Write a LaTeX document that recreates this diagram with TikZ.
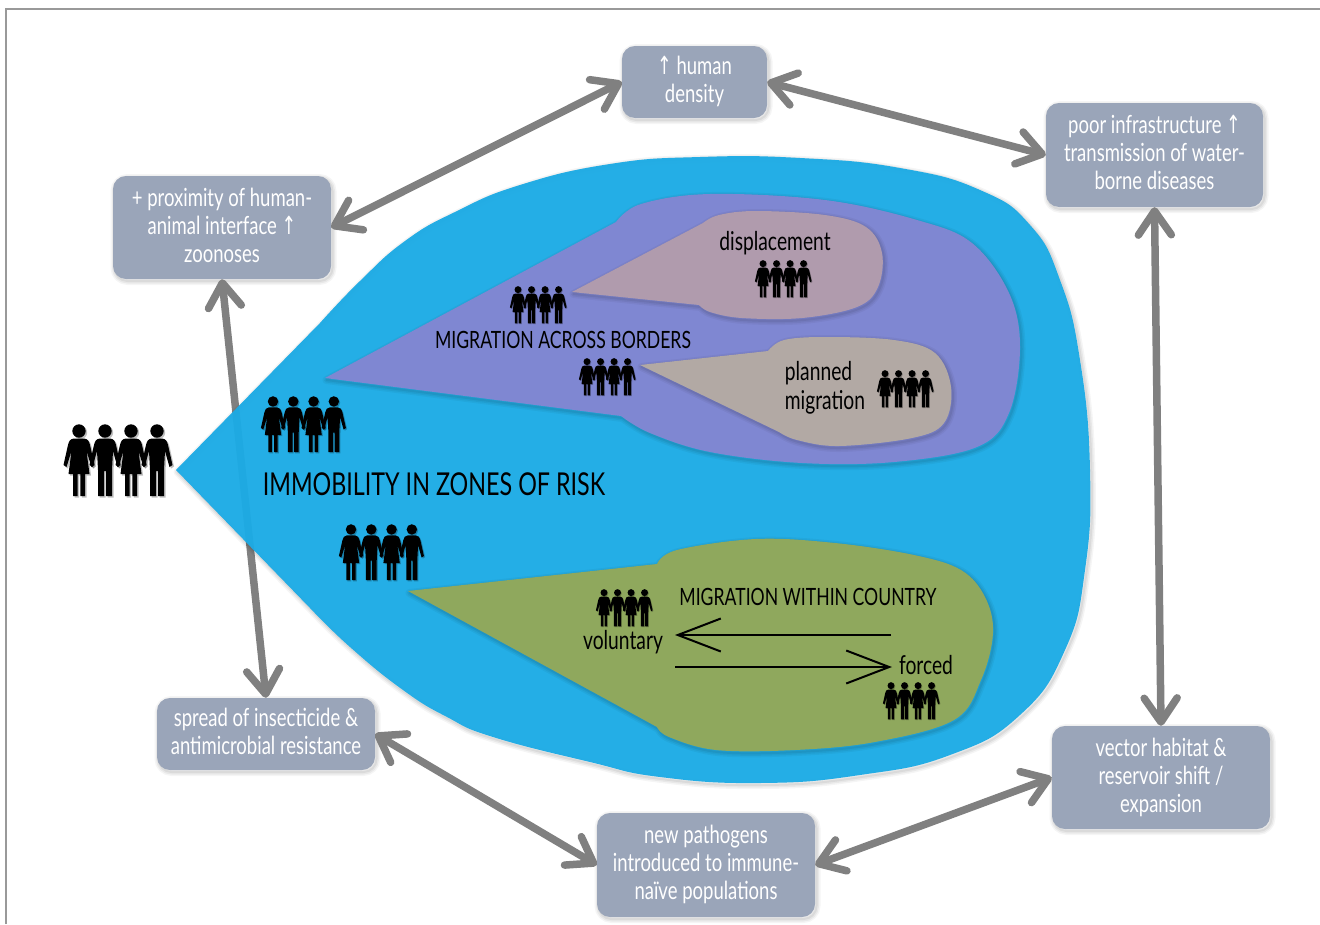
\documentclass[tikz,border=0pt]{standalone}
\usepackage{fontspec}
\setmainfont[FakeStretch=0.74]{Lato}
\newfontfamily\arrowfont[FakeStretch=0.7]{DejaVu Sans}
\usepackage{tikz}
\usetikzlibrary{arrows.meta}
\usetikzlibrary{calc,positioning}

\definecolor{riskblue}{HTML}{1CABE5}
\definecolor{borderblue}{HTML}{7F87D2}
\definecolor{displacerose}{HTML}{B09BAD}
\definecolor{plannedtan}{HTML}{B2A9A4}
\definecolor{countrygreen}{HTML}{8FA85D}
\definecolor{boxgrey}{HTML}{9AA5B9}
\definecolor{linkgrey}{HTML}{808080}

\newcommand{\upmark}{{\arrowfont\symbol{"2191}}}
% one figure, head on top, 72 units high
\newcommand{\womanpath}{(0,7) circle (6.7)
    (-5,14.5) -- (5,14.5) .. controls (9,15) and (10,17) .. (11,21) -- (15.5,41) -- (12.5,43) -- (7.5,27)
    -- (10.5,50) -- (6,50) -- (6,72) -- (1.3,72) -- (1.3,50) -- (-1.3,50) -- (-1.3,72) -- (-6,72) -- (-6,50) -- (-10.5,50)
    -- (-7.5,27) -- (-12.5,43) -- (-15.5,41) -- (-11,21) .. controls (-10,17) and (-9,15) .. (-5,14.5) -- cycle}
\newcommand{\manpath}{(0,7) circle (6.7)
    (-5,14.5) -- (5,14.5) .. controls (9,15) and (10,17) .. (11,21) -- (15.5,41) -- (12.5,43) -- (8,27)
    -- (7,46) -- (7,72) -- (1,72) -- (1,47) -- (-1,47) -- (-1,72) -- (-7,72) -- (-7,46)
    -- (-8,27) -- (-12.5,43) -- (-15.5,41) -- (-11,21) .. controls (-10,17) and (-9,15) .. (-5,14.5) -- cycle}

\tikzset{
    crowd/.pic={
        \foreach \gx/\figpath in {0/\womanpath,26/\manpath,52/\womanpath,78/\manpath} {
            \fill[black,opacity=.25,shift={(\gx+1.5,1.5)}] \figpath;
            \fill[black,shift={(\gx,0)}] \figpath;
        }
    },
    softedge/.style={
        preaction={draw=black, draw opacity=.04, line width=8pt, line join=round, transform canvas={shift={(1.5pt,-2pt)}}},
        preaction={draw=black, draw opacity=.05, line width=5pt, line join=round, transform canvas={shift={(1.5pt,-2pt)}}},
        preaction={draw=black, draw opacity=.06, line width=2pt, line join=round, transform canvas={shift={(1.5pt,-2pt)}}}},
    outcome/.style={rectangle, rounded corners=13pt, fill=boxgrey, text=white, inner sep=0pt,
        align=center, font=\fontsize{25}{28}\selectfont, softedge,
        execute at begin node={\rule{0pt}{19pt}},
        execute at end node={\rule[-5pt]{0pt}{5pt}}},
    link/.style={draw=linkgrey, line width=7.5pt, line cap=round, <->,
        >={Straight Barb[length=24pt,width=33pt,round]}},
    caption/.style={text=black, inner sep=0pt, align=center, font=\fontsize{26}{29}\selectfont},
    bigcaption/.style={caption, font=\fontsize{23.8}{29}\selectfont},
    flow/.style={draw=black, line width=2pt, -{Straight Barb[length=43pt,width=33pt]}},
}

\begin{document}
\begin{tikzpicture}[x=1pt, y=-1pt]
    \useasboundingbox (0,0) rectangle (1320,924);
    \fill[white] (0,0) rectangle (1320,924);
    \draw[draw=black!40, line width=1.5pt] (6,924) -- (6,9) -- (1320,9);

    \node (density) [outcome, minimum width=145pt, minimum height=72pt] at (694.5,82) {\upmark{} human\\density};
    \node (infra) [outcome, minimum width=217pt, minimum height=104pt] at (1154.5,155)
        {poor infrastructure \upmark\\transmission of water-\\borne diseases};
    \node (vector) [outcome, minimum width=218pt, minimum height=103pt] at (1161,777.5)
        {vector habitat \&\\reservoir shift /\\expansion};
    \node (pathogens) [outcome, minimum width=218pt, minimum height=104pt] at (706,865)
        {new pathogens\\introduced to immune-\\naïve populations};
    \node (spread) [outcome, minimum width=218pt, minimum height=72pt] at (266,734)
        {spread of insecticide \&\\antimicrobial resistance};
    \node (zoo) [outcome, minimum width=218pt, minimum height=103pt] at (222,227.5)
        {+ proximity of human-\\animal interface \upmark\\zoonoses};

    \draw [link] (zoo.east) -- (density.west);
    \draw [link] (density.east) -- (infra.west);
    \draw [link] (infra.south) -- (vector.north);
    \draw [link] (vector.west) -- (pathogens.east);
    \draw [link] (pathogens.west) -- (spread.east);
    \draw [link] (spread.north) -- (zoo.south);

    % zones, outer to inner
    \fill [riskblue, fill opacity=.96, softedge] (176,470) -- plot [smooth, tension=.8] coordinates {(320,323) (360,281) (405,241) (455,212) (520,185) (610,164) (700,157) (800,158) (900,168) (980,190) (1030,225) (1060,280) (1080,360) (1090,470) (1085,570) (1065,650) (1020,715) (950,755) (860,775) (760,783) (660,777) (590,762) (493,737) (447,717) (403,690) (350,647) (310,608)} -- cycle;
    \fill [borderblue, softedge] (325,378) -- plot [smooth, tension=.6] coordinates {(616,222) (641,204) (710,194) (825,200) (917,220) (972,243) (1009,293) (1020,347) (1009,413) (977,447) (894,462) (802,463) (710,452) (650,433) (621,416)} -- cycle;
    \fill [displacerose, softedge] (572,292) -- plot [smooth, tension=.6] coordinates {(703,223) (719,215) (756,211) (825,215) (866,227) (882,253) (878,287) (857,307) (802,318) (742,318) (710,312) (699,305)} -- cycle;
    \fill [plannedtan, softedge] (640,365) -- plot [smooth, tension=.6] coordinates {(768,351) (784,340) (825,337) (894,340) (935,353) (951,387) (944,423) (912,438) (839,446) (797,440) (779,432)} -- cycle;
    \fill [countrygreen, softedge] (408,591) -- plot [smooth, tension=.6] coordinates {(657,564) (677,550) (756,539) (835,543) (914,555) (961,570) (985,597) (993,633) (981,680) (954,720) (875,742) (795,750) (716,750) (669,737) (657,727)} -- cycle;

    \foreach \hx/\hy/\hs in {79/424/1, 273/396/.78, 351/524/.78, 518/286/.52, 587/358/.52, 763/260/.52, 885/370/.52, 604/589/.52, 891/682/.52}
        \pic [scale=\hs] at (\hx,\hy) {crowd};

    \node (immobility) [caption, font=\fontsize{31.5}{32}\selectfont] at (434,484) {IMMOBILITY IN ZONES OF RISK};
    \node (across) [bigcaption] at (563,340) {MIGRATION ACROSS BORDERS};
    \node (displacement) [caption] at (775,243) {displacement};
    \node (planned) [caption, align=left] at (825,388) {planned\\migration};
    \node (within) [bigcaption] at (808,597) {MIGRATION WITHIN COUNTRY};
    \node (voluntary) [caption] at (623,642) {voluntary};
    \node (forced) [caption] at (926,665) {forced};

    \coordinate (flowoutR) at (891,635);
    \coordinate (flowoutL) at (675,635);
    \coordinate (flowbackL) at (675,667);
    \coordinate (flowbackR) at (892,667);
    \draw [flow] (flowoutR) -- (flowoutL);
    \draw [flow] (flowbackL) -- (flowbackR);
\end{tikzpicture}
\end{document}
